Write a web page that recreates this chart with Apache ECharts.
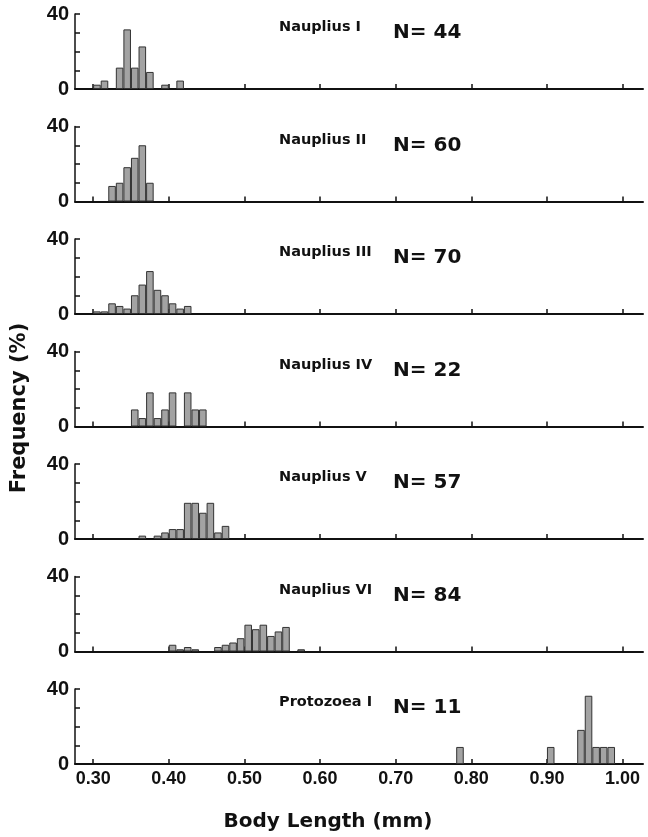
<!DOCTYPE html>
<html>

<head>
  <meta charset="utf-8" />
  <title>Body length frequency by larval stage</title>
  <script src="https://cdn.jsdelivr.net/npm/echarts@6/dist/echarts.min.js"></script>
  <style>
    body { margin: 0; background: #fff; }
  </style>
</head>

<body>
  <div id="chart" style="width: 648px; height: 837px;"></div>
  <script type="text/javascript">

    // Stages and sample sizes
    let stageNames = ['Nauplius I', 'Nauplius II', 'Nauplius III', 'Nauplius IV',
      'Nauplius V', 'Nauplius VI', 'Protozoea I'];
    let sampleSizes = [44, 60, 70, 22, 57, 84, 11];

    // Lower edge of each 0.01 mm class (mm) and frequency (%)
    let n1Length = [0.30, 0.31, 0.33, 0.34, 0.35, 0.36, 0.37, 0.39, 0.41];
    let n1Freq = [2.3, 4.5, 11.4, 31.8, 11.4, 22.7, 9.1, 2.3, 4.5];

    let n2Length = [0.32, 0.33, 0.34, 0.35, 0.36, 0.37];
    let n2Freq = [8.3, 10.0, 18.3, 23.3, 30.0, 10.0];

    let n3Length = [0.30, 0.31, 0.32, 0.33, 0.34, 0.35, 0.36, 0.37, 0.38, 0.39, 0.40, 0.41, 0.42];
    let n3Freq = [1.4, 1.4, 5.7, 4.3, 2.9, 10.0, 15.7, 22.9, 12.9, 10.0, 5.7, 2.9, 4.3];

    let n4Length = [0.35, 0.36, 0.37, 0.38, 0.39, 0.40, 0.42, 0.43, 0.44];
    let n4Freq = [9.1, 4.5, 18.2, 4.5, 9.1, 18.2, 18.2, 9.1, 9.1];

    let n5Length = [0.36, 0.38, 0.39, 0.40, 0.41, 0.42, 0.43, 0.44, 0.45, 0.46, 0.47];
    let n5Freq = [1.8, 1.8, 3.5, 5.3, 5.3, 19.3, 19.3, 14.0, 19.3, 3.5, 7.0];

    let n6Length = [0.40, 0.41, 0.42, 0.43, 0.46, 0.47, 0.48, 0.49, 0.50, 0.51, 0.52, 0.53, 0.54, 0.55, 0.57];
    let n6Freq = [3.6, 1.2, 2.4, 1.2, 2.4, 3.6, 4.8, 7.1, 14.3, 11.9, 14.3, 8.3, 10.7, 13.1, 1.2];

    let p1Length = [0.78, 0.90, 0.94, 0.95, 0.96, 0.97, 0.98];
    let p1Freq = [9.1, 9.1, 18.2, 36.4, 9.1, 9.1, 9.1];

    let xTicks = [0.30, 0.40, 0.50, 0.60, 0.70, 0.80, 0.90, 1.00];

    let allLength = [n1Length, n2Length, n3Length, n4Length, n5Length, n6Length, p1Length];
    let allFreq = [n1Freq, n2Freq, n3Freq, n4Freq, n5Freq, n6Freq, p1Freq];

    var chart = echarts.init(document.getElementById('chart'));

    // layout of the stacked panels
    var xMin = 0.276, xMax = 1.027;
    var gridLeft = 75, gridWidth = 568;
    var firstTop = 14, panelStep = 112.5, panelHeight = 75;
    var binPx = gridWidth * 0.01 / (xMax - xMin);
    var boldFont = 'DejaVu Sans';

    var grids = [], xAxes = [], yAxes = [], series = [], titles = [];

    for (var i = 0; i < stageNames.length; i++) {
      var panelTop = firstTop + panelStep * i;
      var last = (i === stageNames.length - 1);

      grids.push({ left: gridLeft, width: gridWidth, top: panelTop, height: panelHeight });

      xAxes.push({
        gridIndex: i,
        type: 'value',
        min: xMin,
        max: xMax,
        axisLine: { lineStyle: { color: '#111', width: 2 } },
        axisTick: {
          inside: true, length: 5, customValues: xTicks,
          lineStyle: { color: '#111', width: 1.5 }
        },
        axisLabel: {
          show: last,
          customValues: xTicks,
          formatter: function (v) { return v.toFixed(2); },
          color: '#111',
          fontFamily: 'Liberation Sans',
          fontWeight: 'bold',
          fontSize: 18,
          margin: 6
        },
        splitLine: { show: false }
      });

      yAxes.push({
        gridIndex: i,
        type: 'value',
        min: 0,
        max: 40,
        interval: 10,
        axisLine: { show: true, lineStyle: { color: '#111', width: 1.5 } },
        axisTick: { inside: true, length: 5, lineStyle: { color: '#111', width: 1.5 } },
        axisLabel: {
          formatter: function (v) { return (v === 0 || v === 40) ? String(v) : ''; },
          color: '#111',
          fontFamily: 'Liberation Sans',
          fontWeight: 'bold',
          fontSize: 20,
          margin: 6
        },
        splitLine: { show: false }
      });

      series.push({
        name: stageNames[i],
        type: 'bar',
        xAxisIndex: i,
        yAxisIndex: i,
        barWidth: binPx,
        itemStyle: { color: '#a3a3a3', borderColor: '#333', borderWidth: 1 },
        data: allLength[i].map(function (l, k) { return [l + 0.005, allFreq[i][k]]; })
      });

      titles.push({
        text: stageNames[i],
        left: 279,
        top: panelTop + 6,
        padding: 0,
        textStyle: { fontFamily: boldFont, fontWeight: 'bold', fontSize: 14.5, color: '#111' }
      });
      titles.push({
        text: 'N= ' + sampleSizes[i],
        left: 393,
        top: panelTop + 9,
        padding: 0,
        textStyle: { fontFamily: boldFont, fontWeight: 'bold', fontSize: 20, color: '#111' }
      });
    }

    var option = {
      animation: false,
      title: titles,
      grid: grids,
      xAxis: xAxes,
      yAxis: yAxes,
      series: series,
      graphic: [
        {
          type: 'text',
          x: 20,
          y: 408,
          rotation: Math.PI / 2,
          style: {
            text: 'Frequency (%)',
            fontFamily: boldFont,
            fontWeight: 'bold',
            fontSize: 21,
            fill: '#111',
            align: 'center',
            verticalAlign: 'middle'
          }
        },
        {
          type: 'text',
          x: 328,
          y: 822,
          style: {
            text: 'Body Length (mm)',
            fontFamily: boldFont,
            fontWeight: 'bold',
            fontSize: 20,
            fill: '#111',
            align: 'center',
            verticalAlign: 'middle'
          }
        }
      ]
    };

    chart.setOption(option);
  </script>
</body>

</html>
